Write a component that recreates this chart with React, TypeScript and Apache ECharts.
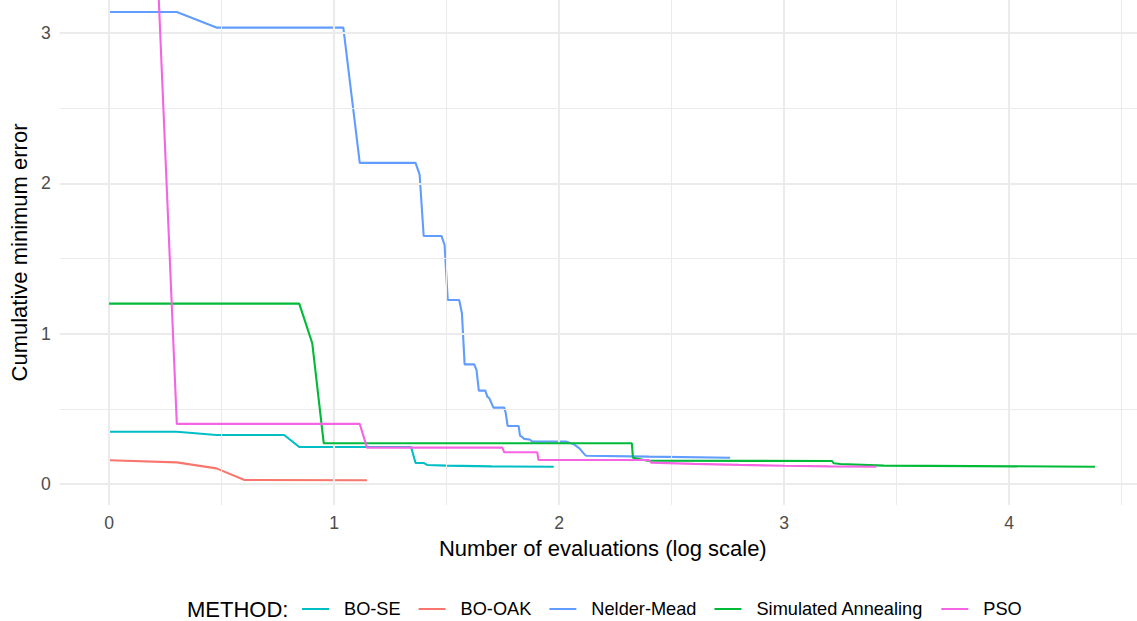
import React, { useEffect, useRef } from "react";
import * as echarts from "echarts";

// x values are log10(number of evaluations)
const methods = ["BO-SE", "BO-OAK", "Nelder-Mead", "Simulated Annealing", "PSO"];
const colors = ["#00BFC4", "#F8766D", "#619CFF", "#00BA38", "#F564E3"];

const boSeX = [0, 0.301, 0.477, 0.778, 0.845, 1.342, 1.362, 1.398, 1.415, 1.5, 1.7, 1.976];
const boSeY = [0.348, 0.348, 0.326, 0.326, 0.246, 0.246, 0.14, 0.14, 0.126, 0.122, 0.117, 0.115];

const boOakX = [0, 0.301, 0.477, 0.602, 1.146];
const boOakY = [0.158, 0.144, 0.104, 0.027, 0.025];

const nmX = [0, 0.301, 0.477, 1.041, 1.114, 1.362, 1.38, 1.398, 1.477, 1.491, 1.505, 1.556, 1.568, 1.58, 1.623, 1.633, 1.643, 1.672, 1.681, 1.69, 1.708, 1.756, 1.763, 1.771, 1.82, 1.826, 1.838, 1.845, 1.869, 1.881, 2.033, 2.068, 2.09, 2.111, 2.12, 2.4, 2.76];
const nmY = [3.14, 3.14, 3.036, 3.036, 2.136, 2.136, 2.058, 1.65, 1.65, 1.59, 1.224, 1.224, 1.136, 0.796, 0.796, 0.758, 0.621, 0.621, 0.581, 0.57, 0.508, 0.508, 0.47, 0.386, 0.386, 0.322, 0.31, 0.3, 0.296, 0.282, 0.282, 0.262, 0.237, 0.2, 0.188, 0.182, 0.175];

const saX = [0, 0.845, 0.903, 0.954, 2.323, 2.328, 2.393, 3.213, 3.22, 3.25, 3.443, 4.381];
const saY = [1.2, 1.2, 0.936, 0.271, 0.271, 0.175, 0.155, 0.153, 0.138, 0.133, 0.122, 0.115];

const psoX = [0, 0.301, 1.114, 1.146, 1.748, 1.756, 1.903, 1.908, 2.398, 2.41, 2.6, 2.8, 3.0, 3.2, 3.41];
const psoY = [11.0, 0.4, 0.4, 0.242, 0.242, 0.211, 0.211, 0.16, 0.16, 0.142, 0.134, 0.127, 0.121, 0.117, 0.115];

const xTicks = [0, 1, 2, 3, 4];
const yTicks = [0, 1, 2, 3];
const xMinor = [0.5, 1.5, 2.5, 3.5, 4.5];
const yMinor = [0.5, 1.5, 2.5];

const FONT = "'Liberation Sans', Arial, Helvetica, sans-serif";

function zip(xs: number[], ys: number[]) {
  return xs.map((x, i) => [x, ys[i]]);
}

export default function App() {
  const ref = useRef<HTMLDivElement>(null);
  useEffect(() => {
    if (!ref.current) return;
    const chart = echarts.init(ref.current, undefined, { renderer: "svg" });
    const seriesData = [zip(boSeX, boSeY), zip(boOakX, boOakY), zip(nmX, nmY), zip(saX, saY), zip(psoX, psoY)];
    const gridLine = (w: number) => ({ color: "#EBEBEB", width: w, type: "solid" as const });
    const option: any = {
      animation: false,
      grid: { left: 58, right: 0, top: 0, bottom: 116, containLabel: false },
      xAxis: {
        type: "value",
        min: -0.2195,
        max: 4.568,
        name: "Number of evaluations (log scale)",
        nameLocation: "middle",
        nameGap: 32,
        nameTextStyle: { fontSize: 22, color: "#000", fontFamily: FONT, padding: [0, 0, 0, 9] },
        axisLine: { show: false },
        axisTick: { show: false },
        splitLine: { show: false },
        axisLabel: {
          customValues: xTicks,
          fontSize: 17.6,
          color: "#4D4D4D",
          fontFamily: FONT,
          margin: 9,
          formatter: (v: number) => String(v),
        },
      },
      yAxis: {
        type: "value",
        min: -0.1397,
        max: 3.2196,
        name: "Cumulative minimum error",
        nameLocation: "middle",
        nameGap: 25,
        nameTextStyle: { fontSize: 22, color: "#000", fontFamily: FONT },
        axisLine: { show: false },
        axisTick: { show: false },
        splitLine: { show: false },
        axisLabel: {
          customValues: yTicks,
          fontSize: 17.6,
          color: "#4D4D4D",
          fontFamily: FONT,
          margin: 9,
          formatter: (v: number) => String(v),
        },
      },
      legend: {
        data: methods,
        left: 297,
        top: 595,
        icon: "rect",
        itemWidth: 27,
        itemHeight: 2,
        itemGap: 18,
        textStyle: { fontSize: 18.2, color: "#000", fontFamily: FONT, padding: [0, 0, 0, 10] },
      },
      graphic: [
        {
          type: "text",
          left: 187,
          top: 598,
          style: { text: "METHOD:", fontSize: 22, fill: "#000", fontFamily: FONT },
        },
      ],
      series: [
        {
          name: "__grid",
          type: "line",
          data: [],
          silent: true,
          z: 0,
          markLine: {
            silent: true,
            symbol: ["none", "none"],
            label: { show: false },
            animation: false,
            data: [
              ...xMinor.map((v) => ({ xAxis: v, lineStyle: gridLine(1.1) })),
              ...yMinor.map((v) => ({ yAxis: v, lineStyle: gridLine(1.1) })),
              ...xTicks.map((v) => ({ xAxis: v, lineStyle: gridLine(2.1) })),
              ...yTicks.map((v) => ({ yAxis: v, lineStyle: gridLine(2.1) })),
            ],
          },
        },
        ...methods.map((m, i) => ({
          name: m,
          type: "line",
          data: seriesData[i],
          showSymbol: false,
          symbol: "none",
          clip: true,
          z: 2 + i,
          lineStyle: { color: colors[i], width: 2.1 },
          itemStyle: { color: colors[i] },
        })),
      ],
    };
    chart.setOption(option);
    return () => chart.dispose();
  }, []);
  return (
    <div
      ref={ref}
      style={{ position: "fixed", left: 0, top: 0, width: 1137, height: 621, background: "#fff" }}
    />
  );
}
